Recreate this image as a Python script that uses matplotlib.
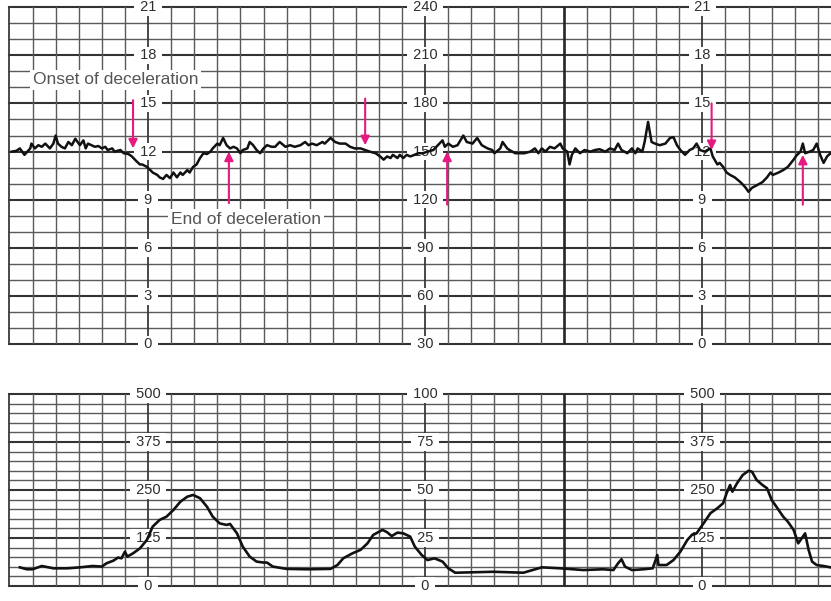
import numpy as np
import matplotlib
matplotlib.use('Agg')
import matplotlib.pyplot as plt

plt.rcParams['font.family'] = ['Liberation Sans', 'DejaVu Sans']

# fetal heart rate trace, time in seconds (one grid column = 20 s), bpm
fhr_t = [2, 6, 9, 13, 18, 19, 22, 25, 28, 31, 35, 38, 40, 42, 45, 48, 51, 54, 57, 59,
         61, 64, 66, 68, 71, 74, 77, 80, 83, 85, 89, 91, 96, 99, 103, 106, 110, 113,
         115, 119, 122, 124, 128, 130, 133, 136, 139, 142, 145, 148, 150, 154, 156, 159,
         162, 165, 168, 171, 174, 176, 180, 182, 185, 188, 191, 194, 197, 200, 202, 206,
         208, 211, 214, 217, 220, 223, 227,
         230, 234, 239, 243, 247, 252, 256, 259, 262, 266, 271, 273, 278, 282, 286, 291,
         295, 299, 304, 308, 312, 317, 321, 324, 327, 330, 332, 336, 338, 341, 344,
         347, 349, 354, 358, 362, 367, 371, 375, 377, 380, 384, 388, 393, 396, 401, 405,
         409, 414, 418, 420, 425, 427, 431, 433, 438, 442, 446, 451, 455, 458, 461,
         464, 468, 472, 477, 479, 483, 485, 487, 490, 494, 498, 503, 507, 511, 516, 520,
         524, 527, 530, 535, 539, 542, 544, 548, 550, 553, 556, 559, 563, 568, 572, 575,
         578, 581, 585,
         589, 592, 595, 598, 602, 607, 609, 613, 615, 618, 621, 624, 628, 633, 637, 640,
         643, 647, 652, 656, 659, 661, 666, 670, 674, 679, 682, 685, 687, 689, 693, 696,
         699, 702, 705, 708, 711]
fhr_bpm = [150, 150.5, 152, 148, 152, 155, 152, 154, 153, 155, 152, 155, 160, 155, 153, 152,
           156, 154, 158, 156, 154, 157, 152, 155, 154, 153, 153.5, 152, 153, 151, 152, 150,
           151, 149, 148.5, 147, 144, 142,
           142, 140.5, 138.5, 137, 135.5, 134, 133, 135.5, 133.5, 137, 134, 137, 135.5, 138.5,
           137, 140.5, 142, 146, 149, 148.5, 150, 152, 155, 154, 158.5, 154, 152, 153, 152,
           149, 151, 152, 156, 154, 151, 149, 152, 154, 153,
           153, 156, 153, 154, 153, 154, 156, 154, 155, 154, 156, 155, 158.5, 156, 155, 155,
           153, 152, 152, 151, 150, 149, 147, 145, 147, 146, 148, 146, 148, 146, 148,
           147, 147.5, 149, 149, 150, 151, 154, 157, 153, 155, 153, 154, 160, 156, 155, 158.5,
           154, 152, 151, 149, 152, 156, 152, 151, 149, 149, 149, 150, 152, 149, 152,
           150, 153, 152, 155, 152, 150, 142, 148, 152, 149, 151, 150, 151, 151.5, 150, 152,
           151, 155, 151, 149, 152, 149, 152, 150, 156, 168.5, 156, 155, 154, 155, 158.5, 159,
           154, 151, 148,
           151, 152, 155, 151, 150, 152, 147, 142, 143, 140.5, 137, 135.5, 134, 131, 128, 125,
           127.5, 129, 131, 134, 137, 135.5, 137, 138.5, 140.5, 145, 148, 150, 155, 149, 150,
           151, 155, 148, 143, 147, 149]

# uterine activity trace
uc_t = [9, 15, 20, 28, 38, 50, 61, 72, 80, 84, 90, 94, 97, 100, 102, 107, 113, 119, 124, 130,
        136, 142, 148, 154, 159, 165, 171, 176, 182, 188, 191, 197, 202, 208, 214, 220, 223,
        228, 240, 258, 278, 284, 289, 297, 304, 310, 315, 323, 327, 331, 336, 341, 347, 351,
        357, 362, 368, 375, 380, 386, 399, 419, 445, 453, 461, 477, 497, 514, 523, 527, 530,
        533, 539, 549, 557, 561, 562, 569, 575, 581, 587, 591, 595, 601, 607, 613, 618, 621,
        624, 626, 630, 635, 640, 643, 647, 652, 656, 660, 665, 670, 674, 679, 683, 689, 692,
        695, 699, 705, 711]
uc = [9.7, 8.7, 8.7, 10.4, 9.2, 9.2, 9.7, 10.4, 10.1, 11.8, 13.2, 14.8, 14.4, 17.9, 15.3, 17,
      19.6, 24, 30.9, 34.4, 36.1, 39.6, 43.9, 46.5, 47.4, 45.7, 41.3, 36.1, 32.6, 31.8, 32.3,
      27.4, 20.5, 15.3, 12.7, 12.2, 12.2, 10.1, 8.9, 8.7, 8.9, 10.9, 14.4, 17, 18.8, 22.2, 26.6,
      29.2, 28, 26, 27.8, 27.4, 25.7, 20.5, 16.1, 13.5, 14.4, 12.7, 9.2, 6.9, 7.1, 7.4, 6.9,
      8.3, 9.7, 9.2, 8.3, 8.7, 8.3, 11.8, 13.9, 10.1, 8.3, 8.7, 9.2, 16.1, 10.9, 10.9, 13.5,
      17.9, 24, 26.6, 27.4, 32.6, 37.9, 40.5, 43.1, 48.3, 52.6, 49.1, 53.5, 57.8, 60, 59.5,
      55.2, 52.6, 50.9, 44.8, 40.5, 36.1, 33.5, 29.2, 22.2, 27.4, 18.8, 12.7, 10.9, 10.4, 9.7]

# scale labels
label_cols = [120, 360, 600]
kpa_labels = ['0', '3', '6', '9', '12', '15', '18', '21']
bpm_labels = ['30', '60', '90', '120', '150', '180', '210', '240']
bpm_ticks = [30, 60, 90, 120, 150, 180, 210, 240]
ua_labels = ['0', '125', '250', '375', '500']
mmhg_labels = ['0', '25', '50', '75', '100']
mmhg_ticks = [0, 25, 50, 75, 100]

# deceleration markers: time, tail, head (bpm)
arrow_t = [107, 190, 308, 379, 608, 687]
arrow_from = [182, 118, 183, 117, 180, 117]
arrow_to = [152, 150, 154, 150, 151, 148]

XMAX = 711.4
PINK = '#e5197f'

fig = plt.figure(figsize=(8.31, 6.01), dpi=100)
ax1 = fig.add_axes([0.0114, 0.4268, 0.9886, 0.5616])
ax2 = fig.add_axes([0.0114, 0.0250, 0.9886, 0.3195])


def paper(ax, ymin, ymax, minor, major):
    for y in np.arange(ymin, ymax + 0.01, minor):
        big = abs((y - ymin) % major) < 1e-6
        ax.axhline(y, color='#333333' if big else '#5a5a5a', lw=1.5 if big else 1.0,
                   zorder=1, clip_on=False)
    for x in np.arange(0, XMAX, 20):
        if x == 480:
            ax.axvline(x, color='#262626', lw=1.9, zorder=1)
        elif x == 0 or x in label_cols:
            ax.axvline(x, color='#3a3a3a', lw=1.3, zorder=1, clip_on=False)
        else:
            ax.axvline(x, color='#5a5a5a', lw=1.0, zorder=1)
    ax.set_xlim(0, XMAX)
    ax.set_ylim(ymin, ymax)
    ax.axis('off')


def scale(ax, x, ticks, labels):
    for v, lab in zip(ticks, labels):
        ax.text(x, v, ' ' + lab + ' ', ha='center', va='center', fontsize=10.5,
                color='#2e2e2e', zorder=3, clip_on=False,
                bbox=dict(fc='white', ec='none', pad=1.2))


paper(ax1, 30, 240, 10, 30)
paper(ax2, 0, 100, 5, 25)

scale(ax1, label_cols[0], bpm_ticks, kpa_labels)
scale(ax1, label_cols[1], bpm_ticks, bpm_labels)
scale(ax1, label_cols[2], bpm_ticks, kpa_labels)
scale(ax2, label_cols[0], mmhg_ticks, ua_labels)
scale(ax2, label_cols[1], mmhg_ticks, mmhg_labels)
scale(ax2, label_cols[2], mmhg_ticks, ua_labels)

ax1.plot(fhr_t, fhr_bpm, color='#111111', lw=1.8, zorder=4)
ax2.plot(uc_t, uc, color='#111111', lw=1.9, zorder=4)

ax1.text(92, 194.6, 'Onset of deceleration', ha='center', va='center', fontsize=12.5,
         color='#555555', zorder=3, bbox=dict(fc='white', ec='none', pad=2))
ax1.text(205, 108, 'End of deceleration', ha='center', va='center', fontsize=12.5,
         color='#555555', zorder=3, bbox=dict(fc='white', ec='none', pad=2))

for t, a, b in zip(arrow_t, arrow_from, arrow_to):
    ax1.annotate('', xy=(t, b), xytext=(t, a), zorder=5,
                 arrowprops=dict(arrowstyle='-|>', color=PINK, lw=1.5,
                                 mutation_scale=13, shrinkA=0, shrinkB=0))

fig.savefig('out.png', dpi=100)
